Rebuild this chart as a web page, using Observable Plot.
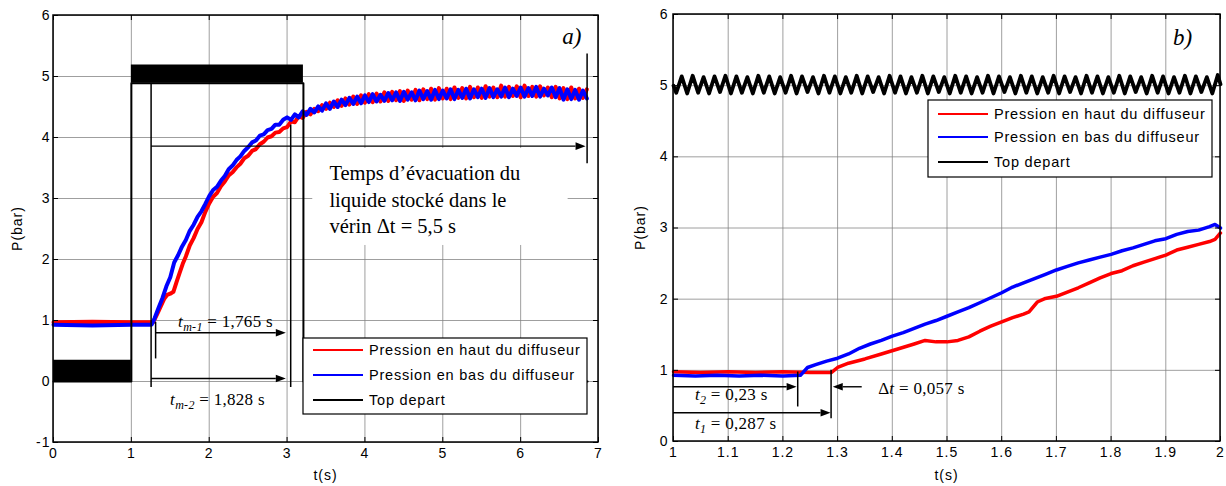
<!DOCTYPE html>
<html><head><meta charset="utf-8">
<script src="https://cdn.jsdelivr.net/npm/d3@7"></script>
<script src="https://cdn.jsdelivr.net/npm/@observablehq/plot@0.6"></script>
<style>
body{margin:0;background:#fff;}
#wrap{position:relative;width:1226px;height:486px;overflow:hidden;background:#fff;}
#wrap svg{position:absolute;top:0;}
</style></head><body><div id="wrap"></div>
<script>
// ---------------- DATA ----------------
const seriesNames = ["Pression en haut du diffuseur", "Pression en bas du diffuseur", "Top depart"];
const seriesColors = ["#ff0000", "#0000ff", "#000000"];

// Panel a) ticks
const aXTicks = [0, 1, 2, 3, 4, 5, 6, 7];
const aYTicks = [-1, 0, 1, 2, 3, 4, 5, 6];
// Panel b) ticks
const bXTicks = [1, 1.1, 1.2, 1.3, 1.4, 1.5, 1.6, 1.7, 1.8, 1.9, 2];
const bYTicks = [0, 1, 2, 3, 4, 5, 6];

// Panel a) red : pression en haut du diffuseur
const aRedT = [0, 0.5, 1.0, 1.28, 1.33, 1.38, 1.42, 1.46, 1.50, 1.54, 1.58, 1.62, 1.66, 1.70, 1.75, 1.80, 1.85, 1.90, 1.95, 2.00,
  2.05, 2.10, 2.15, 2.20, 2.25, 2.30, 2.35, 2.40, 2.45, 2.50, 2.55, 2.60, 2.65, 2.70, 2.75, 2.80, 2.85, 2.90, 2.95,
  3.00, 3.05, 3.10, 3.15, 3.20, 3.25, 3.30, 3.35, 3.40, 3.45, 3.50, 3.55, 3.60, 3.65, 3.70, 3.75, 3.80, 3.85, 3.90, 3.95,
  4.00, 4.05, 4.10, 4.15, 4.20, 4.25, 4.30, 4.35, 4.40, 4.45, 4.50, 4.55, 4.60, 4.65, 4.70, 4.75, 4.80, 4.85, 4.90, 4.95,
  5.00, 5.05, 5.10, 5.15, 5.20, 5.25, 5.30, 5.35, 5.40, 5.45, 5.50, 5.55, 5.60, 5.65, 5.70, 5.75, 5.80, 5.85, 5.90, 5.95,
  6.00, 6.05, 6.10, 6.15, 6.20, 6.25, 6.30, 6.35, 6.40, 6.45, 6.50, 6.55, 6.60, 6.65, 6.70, 6.75, 6.80, 6.85];
const aRedP = [0.97, 0.98, 0.97, 0.97, 1.10, 1.24, 1.35, 1.42, 1.44, 1.47, 1.63, 1.78, 1.93, 2.05, 2.23, 2.35, 2.50, 2.61, 2.78, 2.92,
  3.03, 3.09, 3.20, 3.28, 3.38, 3.43, 3.51, 3.57, 3.66, 3.70, 3.78, 3.81, 3.89, 3.93, 4.00, 4.02, 4.08, 4.09, 4.15,
  4.17, 4.26, 4.25, 4.35, 4.32, 4.42, 4.38, 4.47, 4.43, 4.53, 4.47, 4.57, 4.50, 4.61, 4.52, 4.64, 4.54, 4.67, 4.55, 4.69,
  4.57, 4.71, 4.58, 4.72, 4.59, 4.74, 4.60, 4.75, 4.61, 4.76, 4.60, 4.77, 4.62, 4.78, 4.61, 4.79, 4.63, 4.80, 4.62, 4.81,
  4.64, 4.80, 4.63, 4.82, 4.65, 4.81, 4.64, 4.83, 4.66, 4.82, 4.65, 4.84, 4.67, 4.82, 4.66, 4.85, 4.67, 4.83, 4.68, 4.84,
  4.66, 4.85, 4.68, 4.83, 4.67, 4.84, 4.69, 4.82, 4.66, 4.83, 4.64, 4.81, 4.63, 4.82, 4.64, 4.80, 4.65, 4.79];

// Panel a) blue : pression en bas du diffuseur
const aBlueT = [0, 0.5, 1.0, 1.26, 1.30, 1.35, 1.40, 1.45, 1.50, 1.55, 1.60, 1.65, 1.70, 1.75, 1.80, 1.85, 1.90, 1.95, 2.00,
  2.05, 2.10, 2.15, 2.20, 2.25, 2.30, 2.35, 2.40, 2.45, 2.50, 2.55, 2.60, 2.65, 2.70, 2.75, 2.80, 2.85, 2.90, 2.95,
  3.00, 3.05, 3.10, 3.15, 3.20, 3.25, 3.30, 3.35, 3.40, 3.45, 3.50, 3.55, 3.60, 3.65, 3.70, 3.75, 3.80, 3.85, 3.90, 3.95,
  4.00, 4.05, 4.10, 4.15, 4.20, 4.25, 4.30, 4.35, 4.40, 4.45, 4.50, 4.55, 4.60, 4.65, 4.70, 4.75, 4.80, 4.85, 4.90, 4.95,
  5.00, 5.05, 5.10, 5.15, 5.20, 5.25, 5.30, 5.35, 5.40, 5.45, 5.50, 5.55, 5.60, 5.65, 5.70, 5.75, 5.80, 5.85, 5.90, 5.95,
  6.00, 6.05, 6.10, 6.15, 6.20, 6.25, 6.30, 6.35, 6.40, 6.45, 6.50, 6.55, 6.60, 6.65, 6.70, 6.75, 6.80, 6.85];
const aBlueP = [0.93, 0.92, 0.93, 0.93, 1.04, 1.21, 1.37, 1.56, 1.71, 1.95, 2.07, 2.21, 2.32, 2.47, 2.57, 2.70, 2.79, 2.91, 3.04,
  3.14, 3.19, 3.29, 3.37, 3.48, 3.54, 3.63, 3.69, 3.78, 3.84, 3.92, 3.95, 4.03, 4.05, 4.12, 4.14, 4.21, 4.21, 4.29,
  4.33, 4.29, 4.38, 4.33, 4.43, 4.37, 4.47, 4.41, 4.51, 4.44, 4.56, 4.47, 4.59, 4.50, 4.62, 4.53, 4.65, 4.55, 4.67, 4.56,
  4.69, 4.58, 4.71, 4.59, 4.70, 4.60, 4.73, 4.61, 4.74, 4.60, 4.75, 4.62, 4.74, 4.61, 4.77, 4.63, 4.76, 4.62, 4.78, 4.63,
  4.77, 4.64, 4.79, 4.63, 4.78, 4.65, 4.80, 4.64, 4.79, 4.66, 4.80, 4.65, 4.81, 4.66, 4.79, 4.67, 4.82, 4.66, 4.80, 4.68,
  4.82, 4.67, 4.81, 4.68, 4.83, 4.67, 4.80, 4.69, 4.82, 4.66, 4.81, 4.62, 4.79, 4.63, 4.78, 4.62, 4.77, 4.64];

// Panel a) black : top depart (band limits of the 50 Hz signal)
const aTopT = [0, 1, 3.21, 6.86];
const aTopLo = [0, 4.89, 0, 0];
const aTopHi = [0.35, 5.19, 0, 0];

// Panel b) red
const bRedT = [1.000, 1.050, 1.100, 1.150, 1.200, 1.250, 1.289, 1.300, 1.320, 1.350, 1.380, 1.410, 1.440, 1.460, 1.480, 1.500,
  1.520, 1.540, 1.560, 1.580, 1.600, 1.620, 1.640, 1.650, 1.665, 1.680, 1.700, 1.720, 1.740, 1.760, 1.780, 1.800,
  1.820, 1.840, 1.860, 1.880, 1.900, 1.920, 1.940, 1.960, 1.980, 1.990, 2.000];
const bRedP = [0.98, 0.97, 0.98, 0.97, 0.98, 0.97, 0.97, 1.04, 1.10, 1.16, 1.23, 1.30, 1.37, 1.42, 1.40, 1.40,
  1.42, 1.47, 1.55, 1.62, 1.68, 1.74, 1.79, 1.82, 1.96, 2.01, 2.04, 2.10, 2.16, 2.23, 2.30, 2.36,
  2.40, 2.47, 2.52, 2.57, 2.62, 2.69, 2.73, 2.77, 2.81, 2.84, 2.93];

// Panel b) blue
const bBlueT = [1.000, 1.040, 1.080, 1.120, 1.160, 1.200, 1.232, 1.245, 1.260, 1.280, 1.300, 1.320, 1.340, 1.360, 1.380, 1.400,
  1.420, 1.440, 1.460, 1.480, 1.500, 1.520, 1.540, 1.560, 1.580, 1.600, 1.620, 1.640, 1.660, 1.680, 1.700, 1.720,
  1.740, 1.760, 1.780, 1.800, 1.820, 1.840, 1.860, 1.880, 1.900, 1.920, 1.940, 1.960, 1.980, 1.990, 2.000];
const bBlueP = [0.93, 0.92, 0.93, 0.92, 0.93, 0.92, 0.93, 1.04, 1.08, 1.13, 1.17, 1.23, 1.31, 1.37, 1.42, 1.48,
  1.53, 1.59, 1.65, 1.70, 1.76, 1.82, 1.88, 1.95, 2.02, 2.09, 2.17, 2.23, 2.29, 2.35, 2.41, 2.46,
  2.51, 2.55, 2.59, 2.63, 2.68, 2.72, 2.77, 2.82, 2.85, 2.91, 2.95, 2.97, 3.02, 3.05, 3.00];

// Panel b) black : top depart (50 Hz oscillation around 5 bar)
const bTopT = [1.000, 1.005, 1.015, 1.025, 1.035, 1.045, 1.055, 1.065, 1.075, 1.085, 1.095,
  1.105, 1.115, 1.125, 1.135, 1.145, 1.155, 1.165, 1.175, 1.185, 1.195,
  1.205, 1.215, 1.225, 1.235, 1.245, 1.255, 1.265, 1.275, 1.285, 1.295,
  1.305, 1.315, 1.325, 1.335, 1.345, 1.355, 1.365, 1.375, 1.385, 1.395,
  1.405, 1.415, 1.425, 1.435, 1.445, 1.455, 1.465, 1.475, 1.485, 1.495,
  1.505, 1.515, 1.525, 1.535, 1.545, 1.555, 1.565, 1.575, 1.585, 1.595,
  1.605, 1.615, 1.625, 1.635, 1.645, 1.655, 1.665, 1.675, 1.685, 1.695,
  1.705, 1.715, 1.725, 1.735, 1.745, 1.755, 1.765, 1.775, 1.785, 1.795,
  1.805, 1.815, 1.825, 1.835, 1.845, 1.855, 1.865, 1.875, 1.885, 1.895,
  1.905, 1.915, 1.925, 1.935, 1.945, 1.955, 1.965, 1.975, 1.985, 1.995, 2.000];
const bTopP = [5.00, 4.90, 5.13, 4.89, 5.14, 4.90, 5.12, 4.89, 5.13, 4.91, 5.14,
  4.89, 5.13, 4.90, 5.12, 4.89, 5.14, 4.90, 5.13, 4.89, 5.12,
  4.90, 5.14, 4.89, 5.13, 4.91, 5.12, 4.89, 5.14, 4.90, 5.13,
  4.89, 5.12, 4.90, 5.14, 4.89, 5.13, 4.91, 5.12, 4.89, 5.14,
  4.90, 5.13, 4.89, 5.12, 4.90, 5.14, 4.89, 5.13, 4.91, 5.12,
  4.89, 5.14, 4.90, 5.13, 4.89, 5.12, 4.90, 5.14, 4.89, 5.13,
  4.91, 5.12, 4.89, 5.14, 4.90, 5.13, 4.89, 5.12, 4.90, 5.14,
  4.89, 5.13, 4.91, 5.12, 4.89, 5.14, 4.90, 5.13, 4.89, 5.12,
  4.90, 5.14, 4.89, 5.13, 4.91, 5.12, 4.89, 5.14, 4.90, 5.13,
  4.89, 5.12, 4.90, 5.14, 4.89, 5.13, 4.91, 5.12, 4.89, 5.15, 5.02];

// ---------------- ANNOTATIONS (data coordinates) ----------------
const annA = {
  vlines: [[1.26, -0.1, 4.88], [1.318, 0.37, 0.97], [3.053, -0.1, 4.2], [6.86, 3.57, 5.37]],
  arrows: [[1.26, 3.85, 6.84, 3.85], [1.318, 0.79, 2.99, 0.79], [1.26, 0.04, 2.99, 0.04]],
  box: [3.33, 2.23, 6.61, 3.82],
  note: {x: 3.55, y: 3.29, lines: ["Temps d’évacuation du", "liquide stocké dans le", "vérin Δt = 5,5 s"]},
  tag: {x: 6.54, y: 5.52, text: "a)"},
  sub: [{x: 1.607, y: 0.89, sub: "m-1", rest: " = 1,765 s"}, {x: 1.504, y: -0.39, sub: "m-2", rest: " = 1,828 s"}]
};
const annB = {
  vlines: [[1.228, 0.485, 0.976], [1.289, 0.32, 1.0]],
  arrows: [[1.0, 0.762, 1.226, 0.762], [1.0, 0.397, 1.288, 0.397], [1.345, 0.762, 1.292, 0.762]],
  tag: {x: 1.914, y: 5.57, text: "b)"},
  sub: [{x: 1.04, y: 0.58, sub: "2", rest: " = 0,23 s"}, {x: 1.04, y: 0.173, sub: "1", rest: " = 0,287 s"}],
  delta: {x: 1.375, y: 0.663}
};

// ---------------- DRAWING ----------------
const SANS = "'Liberation Sans', Arial, Helvetica, sans-serif";
const SERIF = "'Liberation Serif', 'Times New Roman', serif";
const zip = (T, P) => T.map((t, i) => ({t, p: P[i]}));
const gridStyle = {stroke: "#7f7f7f", strokeOpacity: 0.75, strokeWidth: 1};

function buildPanel(cfg) {
  const pw = cfg.width - cfg.ml - cfg.mr, ph = cfg.height - cfg.mt - cfg.mb;
  const tickLen = 5;
  const marks = [
    Plot.gridX(cfg.xt, gridStyle),
    Plot.gridY(cfg.yt, gridStyle),
    ...(cfg.box ? [Plot.rect([cfg.box], {x1: d => d[0], y1: d => d[1], x2: d => d[2], y2: d => d[3], fill: "white"})] : []),
    ...cfg.lines,
    Plot.tickX(cfg.xt, {x: d => d, stroke: "black", insetTop: ph - tickLen}),
    Plot.tickX(cfg.xt, {x: d => d, stroke: "black", insetBottom: ph - tickLen}),
    Plot.tickY(cfg.yt, {y: d => d, stroke: "black", insetRight: pw - tickLen}),
    Plot.tickY(cfg.yt, {y: d => d, stroke: "black", insetLeft: pw - tickLen}),
    Plot.axisX(cfg.xt, {tickSize: 0, tickPadding: 6, tickFormat: cfg.xf, label: null, fill: "black"}),
    Plot.axisY(cfg.yt, {tickSize: 0, tickPadding: cfg.ypad, tickFormat: d => String(d), label: null, fill: "black"}),
  ];
  const plot = Plot.plot({
    width: cfg.width, height: cfg.height,
    marginLeft: cfg.ml, marginRight: cfg.mr, marginTop: cfg.mt, marginBottom: cfg.mb,
    x: {domain: cfg.xd}, y: {domain: cfg.yd},
    style: {fontFamily: SANS, fontSize: "14px", color: "black", background: "white", letterSpacing: "1px"},
    marks
  });
  plot.style.left = cfg.left + "px";
  document.getElementById("wrap").appendChild(plot);
  const svg = d3.select(plot);
  const X = v => plot.scale("x").apply(v), Y = v => plot.scale("y").apply(v);
  const g = svg.append("g").attr("text-anchor", "start");
  const ann = cfg.ann;
  ann.vlines.forEach(([t, a, b]) => {
    g.append("line").attr("x1", X(t)).attr("x2", X(t)).attr("y1", Y(a)).attr("y2", Y(b))
      .attr("stroke", "black").attr("stroke-width", 1.5);
  });
  ann.arrows.forEach(([t1, v1, t2, v2]) => {
    const x1 = X(t1), y1 = Y(v1), x2 = X(t2), y2 = Y(v2);
    const dx = x2 - x1, dy = y2 - y1, L = Math.hypot(dx, dy), ux = dx / L, uy = dy / L;
    const hl = 10, hw = 3.8, bx = x2 - ux * hl, by = y2 - uy * hl;
    g.append("line").attr("x1", x1).attr("y1", y1).attr("x2", bx).attr("y2", by)
      .attr("stroke", "black").attr("stroke-width", 1.4);
    g.append("path").attr("d", `M${x2},${y2}L${bx - uy * hw},${by + ux * hw}L${bx + uy * hw},${by - ux * hw}Z`)
      .attr("fill", "black");
  });
  ann.sub.forEach(s => {
    const tx = g.append("text").attr("x", X(s.x)).attr("y", Y(s.y)).attr("text-anchor", "start")
      .attr("font-family", SERIF).attr("font-size", 17).attr("letter-spacing", "0.3px").attr("fill", "black");
    tx.append("tspan").attr("font-style", "italic").text("t");
    tx.append("tspan").attr("font-style", "italic").attr("font-size", 12).attr("dy", 4).text(s.sub);
    tx.append("tspan").attr("dy", -4).text(s.rest);
  });
  if (ann.delta) {
    const tx = g.append("text").attr("x", X(ann.delta.x)).attr("y", Y(ann.delta.y)).attr("text-anchor", "start")
      .attr("font-family", SERIF).attr("font-size", 17).attr("letter-spacing", "0.3px").attr("fill", "black");
    tx.append("tspan").text("Δ");
    tx.append("tspan").attr("font-style", "italic").text("t");
    tx.append("tspan").text(" = 0,057 s");
  }
  if (ann.note) {
    ann.note.lines.forEach((l, i) => {
      g.append("text").attr("x", X(ann.note.x)).attr("y", Y(ann.note.y) + i * 26.5).attr("text-anchor", "start")
        .attr("font-family", SERIF).attr("font-size", 20.5).attr("letter-spacing", "0px").attr("fill", "black").text(l);
    });
  }
  g.append("text").attr("x", X(ann.tag.x)).attr("y", Y(ann.tag.y)).attr("text-anchor", "start")
    .attr("font-family", SERIF).attr("font-style", "italic").attr("font-size", 23).attr("letter-spacing", "0px")
    .attr("fill", "black").text(ann.tag.text);
  // legend
  const lg = cfg.legend;
  const L = svg.append("g").attr("transform", `translate(${lg.x},${lg.y})`).attr("text-anchor", "start");
  L.append("rect").attr("width", lg.w).attr("height", lg.h).attr("fill", "white").attr("stroke", "black").attr("stroke-width", 1.2);
  seriesNames.forEach((name, i) => {
    const yy = lg.rows[i];
    L.append("line").attr("x1", 10).attr("x2", 60).attr("y1", yy).attr("y2", yy)
      .attr("stroke", seriesColors[i]).attr("stroke-width", 2.2);
    L.append("text").attr("x", 66).attr("y", yy).attr("dy", "0.36em").attr("text-anchor", "start")
      .attr("font-family", SANS).attr("font-size", 14.5).attr("letter-spacing", "0.8px").attr("fill", "black").text(name);
  });
  svg.append("rect").attr("x", cfg.ml).attr("y", cfg.mt).attr("width", pw).attr("height", ph)
    .attr("fill", "none").attr("stroke", "black").attr("stroke-width", 1.5);
  svg.append("text").attr("transform", `translate(${cfg.ylabX},${cfg.mt + ph / 2}) rotate(-90)`)
    .attr("text-anchor", "middle").attr("dy", "0.35em").attr("font-family", SANS).attr("font-size", 14)
    .attr("letter-spacing", "1px").attr("fill", "black").text("P(bar)");
  svg.append("text").attr("x", cfg.ml + pw / 2).attr("y", cfg.xlabY)
    .attr("text-anchor", "middle").attr("font-family", SANS).attr("font-size", 14)
    .attr("letter-spacing", "1px").attr("fill", "black").text("t(s)");
}

// Panel a)
buildPanel({
  left: 0, width: 612, height: 486, ml: 53, mr: 14, mt: 15, mb: 44,
  xd: [0, 7], yd: [-1, 6], xt: aXTicks, yt: aYTicks, xf: d => String(d), ypad: 3,
  box: annA.box,
  lines: [
    Plot.line(zip(aRedT, aRedP), {x: "t", y: "p", stroke: seriesColors[0], strokeWidth: 4}),
    Plot.line(zip(aBlueT, aBlueP), {x: "t", y: "p", stroke: seriesColors[1], strokeWidth: 4}),
    Plot.areaY(aTopT.map((t, i) => ({t, lo: aTopLo[i], hi: aTopHi[i]})), {x: "t", y1: "lo", y2: "hi", curve: "step-after", fill: "black"}),
    Plot.line(zip(aTopT, aTopLo), {x: "t", y: "p", curve: "step-after", stroke: "black", strokeWidth: 2})
  ],
  ann: annA,
  legend: {x: 303, y: 338, w: 284, h: 76, rows: [12, 37, 62]},
  ylabX: 17, xlabY: 480
});

// Panel b)
buildPanel({
  left: 612, width: 614, height: 486, ml: 61, mr: 6, mt: 14, mb: 45,
  xd: [1, 2], yd: [0, 6], xt: bXTicks, yt: bYTicks, xf: d => String(+d.toFixed(1)), ypad: 5,
  lines: [
    Plot.line(zip(bRedT, bRedP), {x: "t", y: "p", stroke: seriesColors[0], strokeWidth: 3.5}),
    Plot.line(zip(bBlueT, bBlueP), {x: "t", y: "p", stroke: seriesColors[1], strokeWidth: 3.5}),
    Plot.line(zip(bTopT, bTopP), {x: "t", y: "p", stroke: "black", strokeWidth: 3.8})
  ],
  ann: annB,
  legend: {x: 316, y: 100, w: 284, h: 77, rows: [14, 37, 62]},
  ylabX: 28, xlabY: 480
});
</script></body></html>
